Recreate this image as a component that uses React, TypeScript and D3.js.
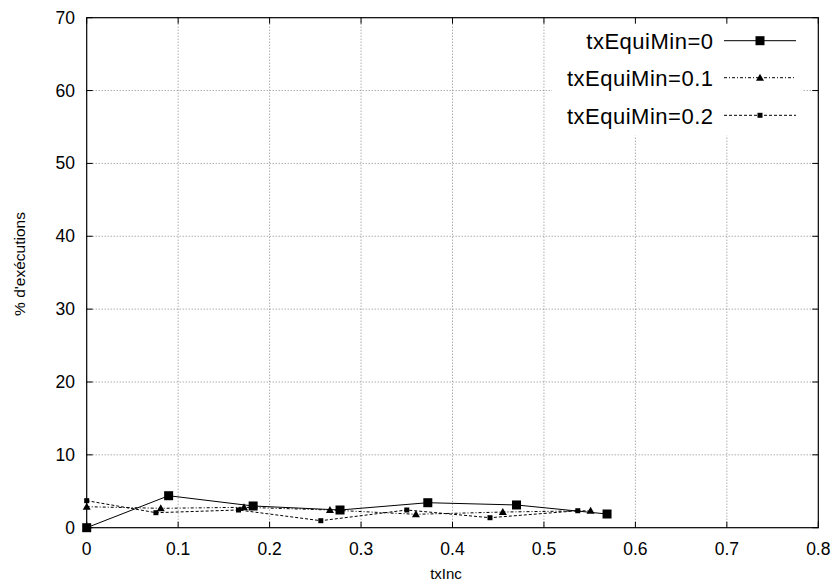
import React from "react";
import * as d3 from "d3";

const xTicks = [0, 0.1, 0.2, 0.3, 0.4, 0.5, 0.6, 0.7, 0.8];
const yTicks = [0, 10, 20, 30, 40, 50, 60, 70];
const seriesNames = ["txEquiMin=0", "txEquiMin=0.1", "txEquiMin=0.2"];
const s0x = [0, 0.0896, 0.182, 0.277, 0.373, 0.47, 0.569];
const s0y = [0, 4.39, 2.98, 2.43, 3.43, 3.12, 1.88];
const s1x = [0, 0.081, 0.172, 0.266, 0.36, 0.455, 0.551];
const s1y = [2.88, 2.66, 2.8, 2.43, 1.84, 2.15, 2.33];
const s2x = [0, 0.0757, 0.166, 0.256, 0.35, 0.441, 0.537];
const s2y = [3.71, 2.06, 2.43, 0.96, 2.43, 1.37, 2.33];

const W = 838, H = 586;
const L = 86.7, R = 818.3, T = 17.7, B = 527.7;
const FONT = "Liberation Sans, Arial, sans-serif";

type Style = { dash: string; marker: "bigsq" | "tri" | "smsq" };
const styles: Style[] = [
  { dash: "none", marker: "bigsq" },
  { dash: "3,2,1,2", marker: "tri" },
  { dash: "3,2", marker: "smsq" },
];

function Marker({ x, y, kind }: { x: number; y: number; kind: Style["marker"] }) {
  if (kind === "bigsq") return <rect x={x - 4.5} y={y - 4.5} width={9} height={9} fill="#000" />;
  if (kind === "smsq") return <rect x={x - 2.5} y={y - 2.5} width={5} height={5} fill="#000" />;
  return <path d={`M${x},${y - 4}L${x + 4},${y + 3}L${x - 4},${y + 3}Z`} fill="#000" />;
}

export default function App() {
  const x = d3.scaleLinear().domain([0, 0.8]).range([L, R]);
  const y = d3.scaleLinear().domain([0, 70]).range([B, T]);
  const data = [
    s0x.map((v, i) => [v, s0y[i]] as [number, number]),
    s1x.map((v, i) => [v, s1y[i]] as [number, number]),
    s2x.map((v, i) => [v, s2y[i]] as [number, number]),
  ];
  const line = d3.line<[number, number]>().x(d => x(d[0])).y(d => y(d[1]));
  const legendY = [40.7, 77.7, 115.3];
  return (
    <svg width={W} height={H} style={{ position: "absolute", left: 0, top: 0, background: "#fff" }}>
      <rect width={W} height={H} fill="#fff" />
      {/* grid */}
      {xTicks.slice(1, -1).map(t => (
        <line key={"gx" + t} x1={x(t)} x2={x(t)} y1={T} y2={B} stroke="#888" strokeWidth={1} strokeDasharray="1,2" />
      ))}
      {yTicks.slice(1, -1).map(t => (
        <line key={"gy" + t} x1={L} x2={R} y1={y(t)} y2={y(t)} stroke="#888" strokeWidth={1} strokeDasharray="1,2" />
      ))}
      {/* legend background */}
      <rect x={552} y={T + 1} width={251} height={117} fill="#fff" />
      {/* ticks */}
      {xTicks.map(t => (
        <g key={"tx" + t}>
          <line x1={x(t)} x2={x(t)} y1={B} y2={B - 6} stroke="#000" />
          <line x1={x(t)} x2={x(t)} y1={T} y2={T + 6} stroke="#000" />
          <text x={x(t)} y={555} textAnchor="middle" fontFamily={FONT} fontSize={17.5}>{String(t)}</text>
        </g>
      ))}
      {yTicks.map(t => (
        <g key={"ty" + t}>
          <line x1={L} x2={L + 6} y1={y(t)} y2={y(t)} stroke="#000" />
          <line x1={R} x2={R - 6} y1={y(t)} y2={y(t)} stroke="#000" />
          <text x={75} y={y(t) + 6} textAnchor="end" fontFamily={FONT} fontSize={17.5}>{String(t)}</text>
        </g>
      ))}
      {/* series */}
      {data.map((d, i) => (
        <g key={"s" + i}>
          <path d={line(d) || ""} fill="none" stroke="#000" strokeWidth={1} strokeDasharray={styles[i].dash} />
          {d.map((p, j) => <Marker key={j} x={x(p[0])} y={y(p[1])} kind={styles[i].marker} />)}
        </g>
      ))}
      {/* frame */}
      <rect x={L} y={T} width={R - L} height={B - T} fill="none" stroke="#000" strokeWidth={1.2} />
      {/* legend */}
      {seriesNames.map((n, i) => (
        <g key={"lg" + i}>
          <text x={713.5} y={legendY[i] + 8.3} textAnchor="end" fontFamily={FONT} fontSize={22} letterSpacing={0.5}>{n}</text>
          <line x1={724} x2={796} y1={legendY[i]} y2={legendY[i]} stroke="#000" strokeDasharray={styles[i].dash} />
          <Marker x={760} y={legendY[i]} kind={styles[i].marker} />
        </g>
      ))}
      {/* axis labels */}
      <text x={446} y={579} textAnchor="middle" fontFamily={FONT} fontSize={15}>txInc</text>
      <text transform="translate(25,264) rotate(-90)" textAnchor="middle" fontFamily={FONT} fontSize={15.5}>% d'exécutions</text>
    </svg>
  );
}
